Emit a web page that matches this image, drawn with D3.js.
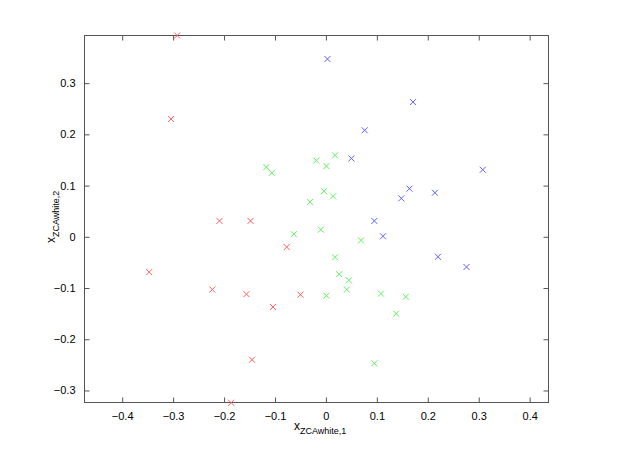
<!DOCTYPE html>
<html><head><meta charset="utf-8">
<script src="https://cdn.jsdelivr.net/npm/d3@7"></script>
<style>body{margin:0;background:#fff;} svg{display:block;}</style>
</head><body>
<svg id="chart" width="624" height="460"></svg>
<script>
const redX = [-0.292,-0.304,-0.209,-0.347,-0.223,-0.186,-0.148,-0.077,-0.156,-0.050,-0.104,-0.145];
const redY = [0.393,0.230,0.031,-0.069,-0.103,-0.324,0.031,-0.020,-0.112,-0.113,-0.137,-0.240];
const greenX = [0.018,-0.019,0.001,-0.117,-0.106,-0.004,0.014,-0.031,-0.063,-0.010,0.069,0.018,0.026,0.045,0.041,0.001,0.108,0.157,0.138,0.095];
const greenY = [0.159,0.149,0.138,0.136,0.125,0.089,0.079,0.068,0.005,0.014,-0.007,-0.040,-0.073,-0.085,-0.103,-0.115,-0.111,-0.117,-0.150,-0.247];
const blueX = [0.003,0.171,0.076,0.050,0.164,0.148,0.308,0.214,0.095,0.112,0.220,0.276];
const blueY = [0.347,0.263,0.208,0.153,0.094,0.075,0.131,0.086,0.031,0.001,-0.039,-0.059];
const xTicks = [-0.4,-0.3,-0.2,-0.1,0,0.1,0.2,0.3,0.4];
const yTicks = [-0.3,-0.2,-0.1,0,0.1,0.2,0.3];
const xDomain = [-0.474, 0.437];
const yDomain = [-0.3235, 0.393];

const svg = d3.select("#chart");
const L = 84.5, R = 548.5, T = 35.5, B = 402.5;
const x = d3.scaleLinear().domain(xDomain).range([L, R]);
const y = d3.scaleLinear().domain(yDomain).range([B, T]);
const axisColor = "#555";
const font = "'Liberation Sans', Arial, sans-serif";

// frame
svg.append("rect").attr("x", L).attr("y", T).attr("width", R - L).attr("height", B - T)
  .attr("fill", "none").attr("stroke", axisColor).attr("stroke-width", 1);

function styleAxis(g) {
  g.select(".domain").remove();
  g.selectAll(".tick line").attr("stroke", axisColor);
  g.selectAll(".tick text").attr("fill", "#000").attr("font-family", font).attr("font-size", 11);
}
const fmt = d => d === 0 ? "0" : d3.format(".1f")(d);
svg.append("g").attr("transform", `translate(0,${B})`)
  .call(d3.axisBottom(x).tickValues(xTicks).tickFormat(fmt).tickSizeInner(-5).tickSizeOuter(0).tickPadding(10))
  .call(styleAxis);
svg.append("g").attr("transform", `translate(0,${T})`)
  .call(d3.axisTop(x).tickValues(xTicks).tickFormat("").tickSizeInner(-5).tickSizeOuter(0))
  .call(styleAxis);
svg.append("g").attr("transform", `translate(${L},0)`)
  .call(d3.axisLeft(y).tickValues(yTicks).tickFormat(fmt).tickSizeInner(-5).tickSizeOuter(0).tickPadding(9))
  .call(styleAxis);
svg.append("g").attr("transform", `translate(${R},0)`)
  .call(d3.axisRight(y).tickValues(yTicks).tickFormat("").tickSizeInner(-5).tickSizeOuter(0))
  .call(styleAxis);

// markers
function drawSeries(xs, ys, color) {
  const s = 3;
  const pts = xs.map((v, i) => [x(v), y(ys[i])]);
  svg.append("g").selectAll("path").data(pts).join("path")
    .attr("d", p => `M${p[0]-s},${p[1]-s}L${p[0]+s},${p[1]+s}M${p[0]-s},${p[1]+s}L${p[0]+s},${p[1]-s}`)
    .attr("stroke", color).attr("stroke-width", 1).attr("fill", "none");
}
drawSeries(redX, redY, "#ff6060");
drawSeries(greenX, greenY, "#60f060");
drawSeries(blueX, blueY, "#6060ff");

// axis labels
const xl = svg.append("text").attr("x", 294).attr("y", 430).attr("font-family", font).attr("font-size", 12).attr("fill", "#000");
xl.append("tspan").text("x");
xl.append("tspan").attr("dy", 4).attr("font-size", 9).text("ZCAwhite,1");

const yl = svg.append("text").attr("transform", "translate(55,243) rotate(-90)").attr("font-family", font).attr("font-size", 12).attr("fill", "#000");
yl.append("tspan").text("x");
yl.append("tspan").attr("dy", 4).attr("font-size", 9).text("ZCAwhite,2");
</script>
</body></html>
